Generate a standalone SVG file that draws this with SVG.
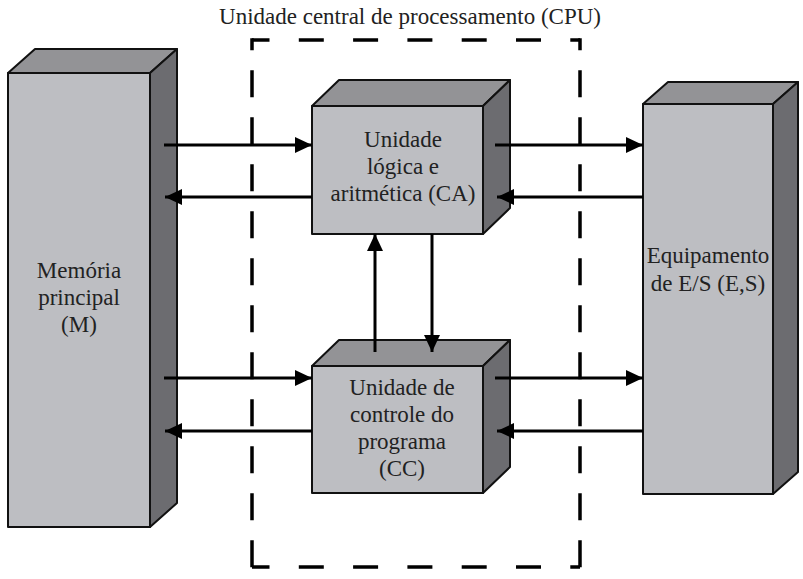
<svg xmlns="http://www.w3.org/2000/svg" width="803" height="579" viewBox="0 0 803 579">
<style>
.front{fill:#bdbec2;stroke:#111;stroke-width:2;stroke-linejoin:round}
.top{fill:#939396;stroke:#111;stroke-width:2;stroke-linejoin:round}
.side{fill:#6c6c70;stroke:#111;stroke-width:2;stroke-linejoin:round}
.lbl{font-family:'Liberation Serif','Times New Roman',serif;font-size:23px;fill:#222;text-anchor:middle}
.arr{stroke:#000;stroke-width:3;fill:none;marker-end:url(#ah)}
.dash{stroke:#000;stroke-width:3.5;fill:none;stroke-linecap:butt}
</style>
<defs>
<marker id="ah" markerUnits="userSpaceOnUse" markerWidth="17" markerHeight="16" refX="17" refY="8" orient="auto">
<path d="M0,0 L17,8 L0,16 z" fill="#000"/>
</marker>
</defs>
<rect width="803" height="579" fill="#fff"/>
<g id="cpu" font-family="Liberation Serif, serif">
<text class="lbl" x="410" y="24" font-family="Liberation Serif, serif">Unidade central de processamento (CPU)</text>
<path class="dash" d="M252,40 H580" stroke-dasharray="25 29.3" stroke-dashoffset="7.5"/>
<path class="dash" d="M252,567 H580" stroke-dasharray="25 29.3" stroke-dashoffset="7.5"/>
<path class="dash" d="M252,38.3 V568.7" stroke-dasharray="27 20" stroke-dashoffset="15"/>
<path class="dash" d="M580,38.3 V568.7" stroke-dasharray="27 20" stroke-dashoffset="15"/>
</g>
<g id="memoria" font-family="Liberation Serif, serif">
<polygon class="top" points="8,73 35,49 177,49 150,73"/>
<polygon class="side" points="150,73 177,49 177,503 150,527"/>
<rect class="front" x="8" y="73" width="142" height="454"/>
<text class="lbl" x="79" y="278">Memória</text>
<text class="lbl" x="79" y="305">principal</text>
<text class="lbl" x="79" y="332">(M)</text>
</g>
<g id="ca" font-family="Liberation Serif, serif">
<polygon class="top" points="312,106 339,80 510,80 483,106"/>
<polygon class="side" points="483,106 510,80 510,208 483,234"/>
<rect class="front" x="312" y="106" width="171" height="128"/>
<text class="lbl" x="403" y="147">Unidade</text>
<text class="lbl" x="403" y="174">lógica e</text>
<text class="lbl" x="403" y="201">aritmética (CA)</text>
</g>
<g id="cc" font-family="Liberation Serif, serif">
<polygon class="top" points="312,366 339,340 510,340 483,366"/>
<polygon class="side" points="483,366 510,340 510,467 483,493"/>
<rect class="front" x="312" y="366" width="171" height="127"/>
<text class="lbl" x="402" y="395">Unidade de</text>
<text class="lbl" x="402" y="422">controle do</text>
<text class="lbl" x="402" y="449">programa</text>
<text class="lbl" x="402" y="476">(CC)</text>
</g>
<g id="es" font-family="Liberation Serif, serif">
<polygon class="top" points="643,104 668,82 798,82 773,104"/>
<polygon class="side" points="773,104 798,82 798,472 773,494"/>
<rect class="front" x="643" y="104" width="130" height="390"/>
<text class="lbl" x="708" y="263">Equipamento</text>
<text class="lbl" x="708" y="291">de E/S (E,S)</text>
</g>
<g id="connectors">
<line class="arr" x1="164" y1="145" x2="312" y2="145"/>
<line class="arr" x1="312" y1="197" x2="165" y2="197"/>
<line class="arr" x1="495" y1="145" x2="643" y2="145"/>
<line class="arr" x1="643" y1="197" x2="497" y2="197"/>
<line class="arr" x1="164" y1="378" x2="312" y2="378"/>
<line class="arr" x1="312" y1="431" x2="165" y2="431"/>
<line class="arr" x1="495" y1="378" x2="643" y2="378"/>
<line class="arr" x1="643" y1="431" x2="497" y2="431"/>
<line class="arr" x1="375" y1="352" x2="375" y2="234"/>
<line class="arr" x1="432" y1="234" x2="432" y2="352"/>
</g>
</svg>
